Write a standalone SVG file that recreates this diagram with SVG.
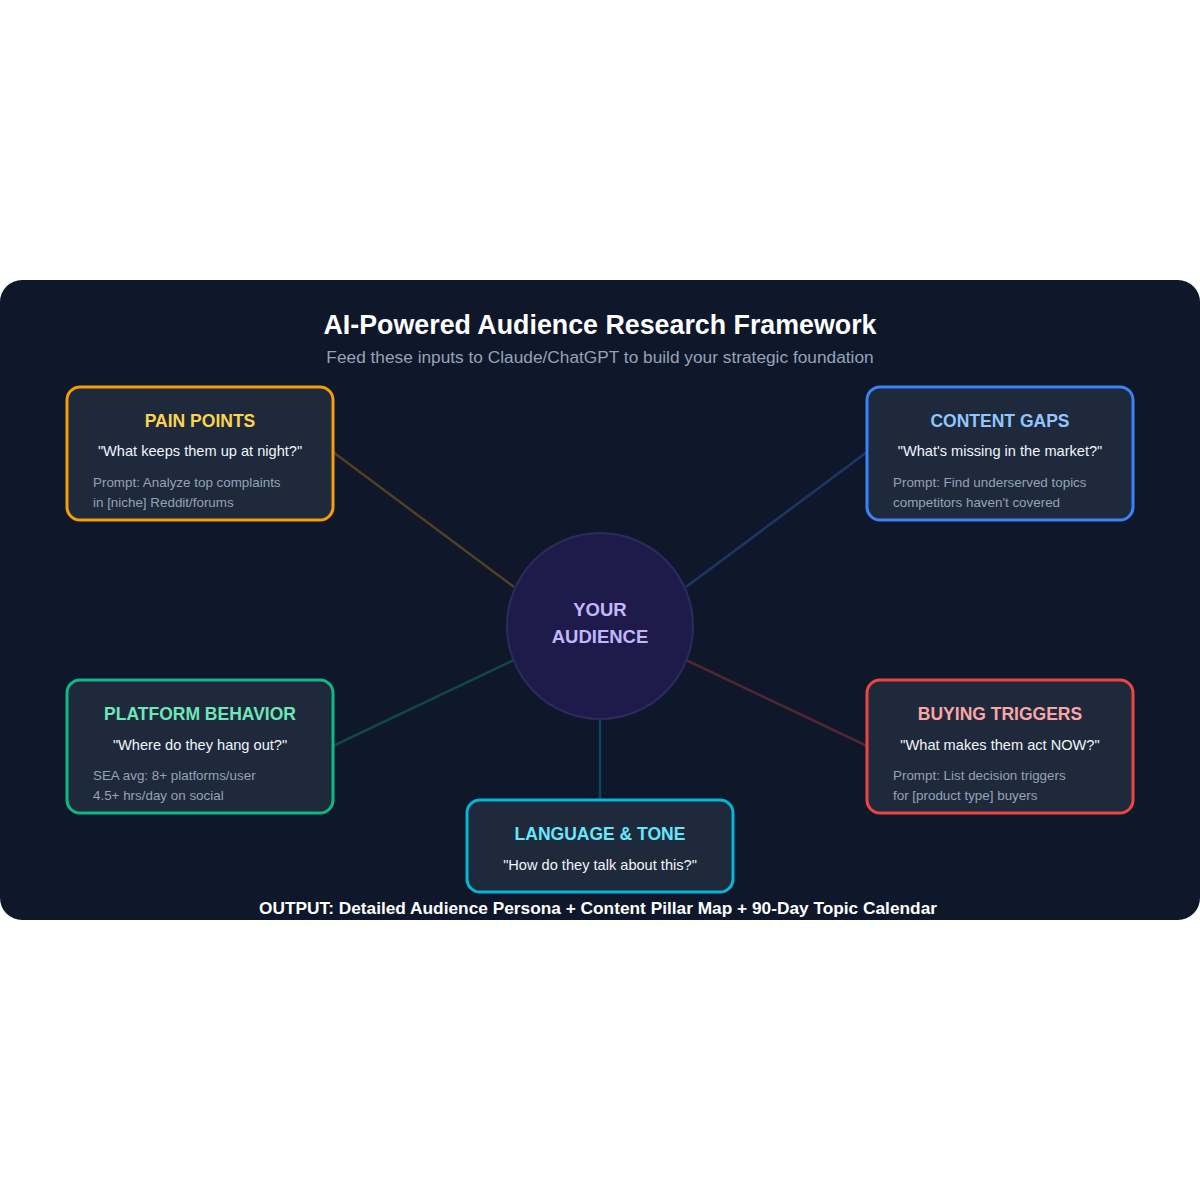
<svg xmlns="http://www.w3.org/2000/svg" width="1200" height="1200" viewBox="0 0 1200 1200">
<style>
text{font-family:"Liberation Sans",Arial,sans-serif}
.box{fill:#1e293b;stroke-width:3}
.ttl{font-size:17.5px;font-weight:bold;text-anchor:middle}
.q{font-size:14.6px;fill:#f1f5f9;text-anchor:middle}
.p{font-size:13.4px;fill:#94a3b8}
.con{stroke-width:2.5;opacity:0.3;fill:none}
</style>
<rect x="0" y="0" width="1200" height="1200" fill="#ffffff"/>
<rect x="0" y="280" width="1200" height="640" rx="22" fill="#0f172a"/>
<text x="600" y="334" font-size="26.8" font-weight="bold" fill="#ffffff" text-anchor="middle">AI-Powered Audience Research Framework</text>
<text x="600" y="363" font-size="17.3" fill="#94a3b8" text-anchor="middle">Feed these inputs to Claude/ChatGPT to build your strategic foundation</text>
<g id="connectors">
<line class="con" x1="333" y1="452" x2="514" y2="587" stroke="#f59e0b"/>
<line class="con" x1="867" y1="452" x2="686" y2="587" stroke="#3b82f6"/>
<line class="con" x1="333" y1="746" x2="514" y2="660" stroke="#10b981"/>
<line class="con" x1="867" y1="746" x2="686" y2="660" stroke="#ef4444"/>
<line class="con" x1="600" y1="800" x2="600" y2="718" stroke="#06b6d4"/>
</g>
<g id="center">
<circle cx="600" cy="626" r="93" fill="#1e1b4b" stroke="#2e2a5e" stroke-width="2"/>
<text x="600" y="616" font-size="18.5" font-weight="bold" fill="#c4b5fd" text-anchor="middle">YOUR</text>
<text x="600" y="643" font-size="18.5" font-weight="bold" fill="#c4b5fd" text-anchor="middle">AUDIENCE</text>
</g>
<g id="pain-points">
<rect class="box" x="67" y="387" width="266" height="133" rx="13" stroke="#f59e0b"/>
<text class="ttl" x="200" y="427" fill="#fcd34d">PAIN POINTS</text>
<text class="q" x="200" y="456">"What keeps them up at night?"</text>
<text class="p" x="93" y="487">Prompt: Analyze top complaints</text>
<text class="p" x="93" y="507">in [niche] Reddit/forums</text>
</g>
<g id="content-gaps">
<rect class="box" x="867" y="387" width="266" height="133" rx="13" stroke="#3b82f6"/>
<text class="ttl" x="1000" y="427" fill="#93c5fd">CONTENT GAPS</text>
<text class="q" x="1000" y="456">"What's missing in the market?"</text>
<text class="p" x="893" y="487">Prompt: Find underserved topics</text>
<text class="p" x="893" y="507">competitors haven't covered</text>
</g>
<g id="platform-behavior">
<rect class="box" x="67" y="680" width="266" height="133" rx="13" stroke="#10b981"/>
<text class="ttl" x="200" y="720" fill="#6ee7b7">PLATFORM BEHAVIOR</text>
<text class="q" x="200" y="750">"Where do they hang out?"</text>
<text class="p" x="93" y="780">SEA avg: 8+ platforms/user</text>
<text class="p" x="93" y="800">4.5+ hrs/day on social</text>
</g>
<g id="buying-triggers">
<rect class="box" x="867" y="680" width="266" height="133" rx="13" stroke="#ef4444"/>
<text class="ttl" x="1000" y="720" fill="#fca5a5">BUYING TRIGGERS</text>
<text class="q" x="1000" y="750">"What makes them act NOW?"</text>
<text class="p" x="893" y="780">Prompt: List decision triggers</text>
<text class="p" x="893" y="800">for [product type] buyers</text>
</g>
<g id="language-tone">
<rect class="box" x="467" y="800" width="266" height="92" rx="13" stroke="#06b6d4"/>
<text class="ttl" x="600" y="840" fill="#67e8f9">LANGUAGE &amp; TONE</text>
<text class="q" x="600" y="870">"How do they talk about this?"</text>
</g>
<text x="598" y="914" font-size="17.3" font-weight="bold" fill="#ffffff" text-anchor="middle">OUTPUT: Detailed Audience Persona + Content Pillar Map + 90-Day Topic Calendar</text>
</svg>
